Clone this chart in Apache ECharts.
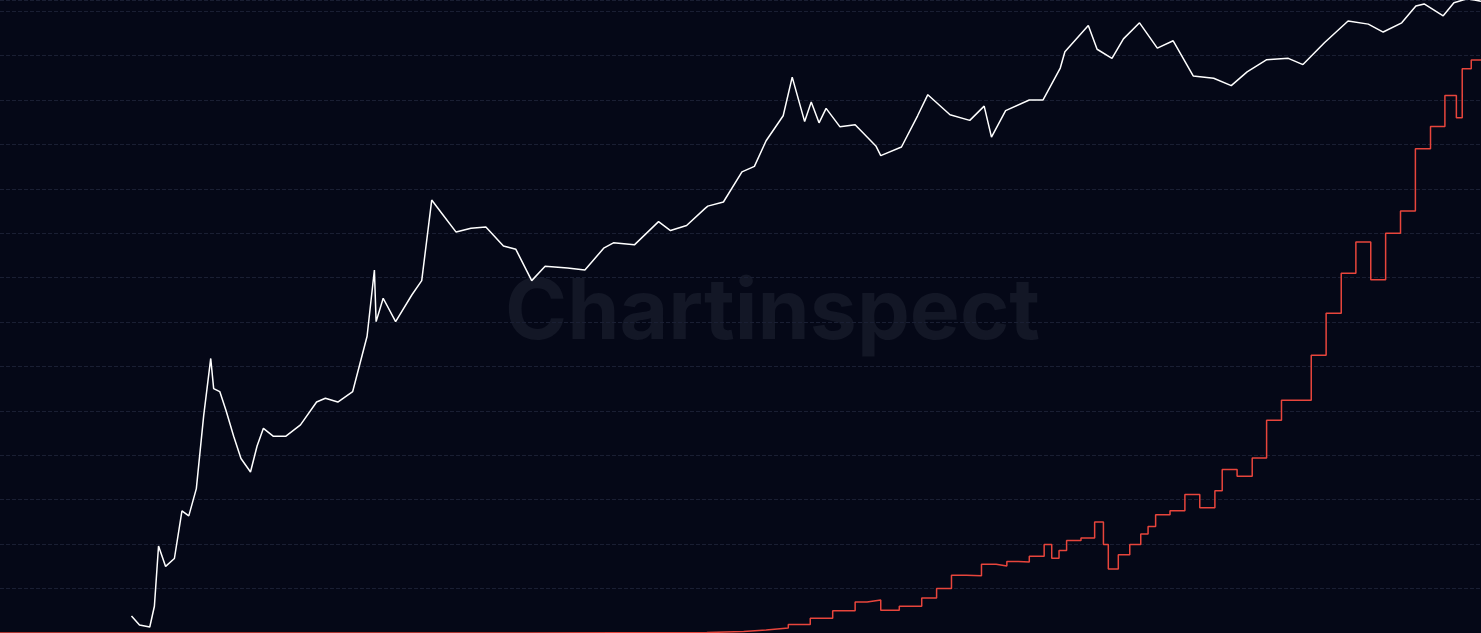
<!DOCTYPE html>
<html><head><meta charset="utf-8">
<script src="https://cdn.jsdelivr.net/npm/echarts@6/dist/echarts.min.js"></script>
<style>html,body{margin:0;padding:0;background:#050817}#c{width:1481px;height:633px}</style>
</head><body><div id="c"></div>
<script>
const priceDates=["2010-07-18","2010-08-20","2010-10-01","2010-10-20","2010-11-06","2010-12-05","2011-01-10","2011-02-10","2011-03-10","2011-04-10","2011-05-10","2011-06-08","2011-06-20","2011-07-15","2011-08-10","2011-09-10","2011-10-10","2011-11-18","2011-12-15","2012-01-10","2012-02-20","2012-04-10","2012-06-10","2012-08-15","2012-09-20","2012-11-10","2013-01-10","2013-03-10","2013-04-09","2013-04-16","2013-05-15","2013-07-05","2013-09-10","2013-10-20","2013-11-30","2014-01-10","2014-03-10","2014-05-10","2014-07-10","2014-09-20","2014-11-10","2015-01-14","2015-03-10","2015-06-10","2015-08-20","2015-11-05","2015-12-15","2016-03-10","2016-06-17","2016-08-05","2016-10-10","2016-12-25","2017-01-05","2017-03-10","2017-05-25","2017-07-15","2017-09-01","2017-11-10","2017-12-17","2018-02-06","2018-03-05","2018-04-06","2018-05-05","2018-07-01","2018-09-01","2018-11-25","2018-12-15","2019-03-10","2019-05-15","2019-06-26","2019-09-25","2019-12-15","2020-02-12","2020-03-13","2020-05-10","2020-08-15","2020-10-10","2020-12-20","2021-01-08","2021-04-14","2021-05-20","2021-07-20","2021-09-05","2021-11-10","2022-01-22","2022-03-28","2022-06-18","2022-09-10","2022-11-21","2023-01-25","2023-04-14","2023-07-13","2023-09-11","2023-12-08","2024-03-14","2024-06-05","2024-08-05","2024-10-20","2024-12-17","2025-01-20","2025-04-08","2025-05-22","2025-07-14","2025-08-14","2025-09-10"];
const priceValues=[0.08,0.065,0.062,0.1,0.4,0.25,0.3,0.9,0.8,1.5,8,30,15,14,9,5,3,2.2,4,6,5,5,6.5,11,12,11,14,50,230,70,120,70,130,180,1150,850,550,600,620,400,370,180,250,240,230,380,430,410,700,570,640,950,1000,1100,2200,2500,4500,8000,19500,7000,11000,6800,9500,6200,6500,4000,3200,3900,8000,13000,8200,7200,10000,4900,9000,11500,11500,24000,35000,64000,37000,30000,47000,68000,38000,45000,20000,19000,16000,22000,29000,30000,26000,43000,71000,66000,55000,68000,100000,105000,80000,108000,118000,115000,112000];
const diffDates=["2009-01-03","2013-01-01","2014-01-01","2015-01-01","2016-01-01","2017-01-01","2017-06-01","2017-09-01","2017-12-01","2018-03-01","2018-06-01","2018-09-01","2018-10-20","2018-12-15","2019-03-01","2019-06-01","2019-08-01","2019-10-01","2019-12-01","2020-02-01","2020-04-01","2020-05-15","2020-07-01","2020-08-15","2020-10-15","2020-11-15","2020-12-15","2021-01-15","2021-03-15","2021-05-10","2021-06-15","2021-07-05","2021-08-15","2021-10-01","2021-11-15","2021-12-15","2022-01-15","2022-03-15","2022-05-15","2022-07-15","2022-09-15","2022-10-15","2022-12-15","2023-02-15","2023-04-15","2023-06-15","2023-08-15","2023-10-15","2023-12-15","2024-02-15","2024-04-15","2024-06-15","2024-08-15","2024-10-15","2024-12-15","2025-02-15","2025-04-15","2025-06-01","2025-06-25","2025-08-01","2025-09-10"];
const diffValues=[0,0.005,0.002,0.04,0.1,0.33,0.7,1.1,1.9,3.3,5,7,7.45,5.1,6,7.9,10,13,12.9,15.5,15.1,16.1,16,17.3,19.9,16.8,18.6,20.8,21.4,25,19.9,14.4,17.6,19.9,22.3,24,26.6,27.5,31.2,28.2,32,36.8,35.3,39.4,47.9,52.4,52.4,62.5,72,81,88,79.5,90,95,109,114,121,116,127,129,129];
const price=priceDates.map((d,i)=>[d,priceValues[i]]);
const diff=diffDates.map((d,i)=>[d,diffValues[i]]);
const ch=echarts.init(document.getElementById('c'));
ch.setOption({
 backgroundColor:'#050817',animation:false,
 grid:{left:0,right:0,top:0,bottom:0},
 graphic:[{type:'text',left:505,top:272,z:0,style:{text:'Chartinspect',fontSize:84,fontWeight:'bold',fontFamily:'Inter, sans-serif',fill:'#131726'}}],
 xAxis:{type:'time',min:'2009-01-25',max:'2025-09-10',show:false},
 yAxis:[{type:'value',min:0,max:142.5,interval:10,axisLabel:{show:false},axisLine:{show:false},axisTick:{show:false},splitLine:{show:true,lineStyle:{color:'#1a1f33',type:'dashed'}}},
 {type:'log',min:0.054,max:115000,show:false,splitLine:{show:false}}],
 series:[
 {type:'line',yAxisIndex:1,data:price,showSymbol:false,lineStyle:{color:'#ffffff',width:1.5},z:3},
 {type:'line',yAxisIndex:0,data:diff,step:'end',showSymbol:false,lineStyle:{color:'#e8453c',width:1.5},z:4}
 ]
});
</script></body></html>
